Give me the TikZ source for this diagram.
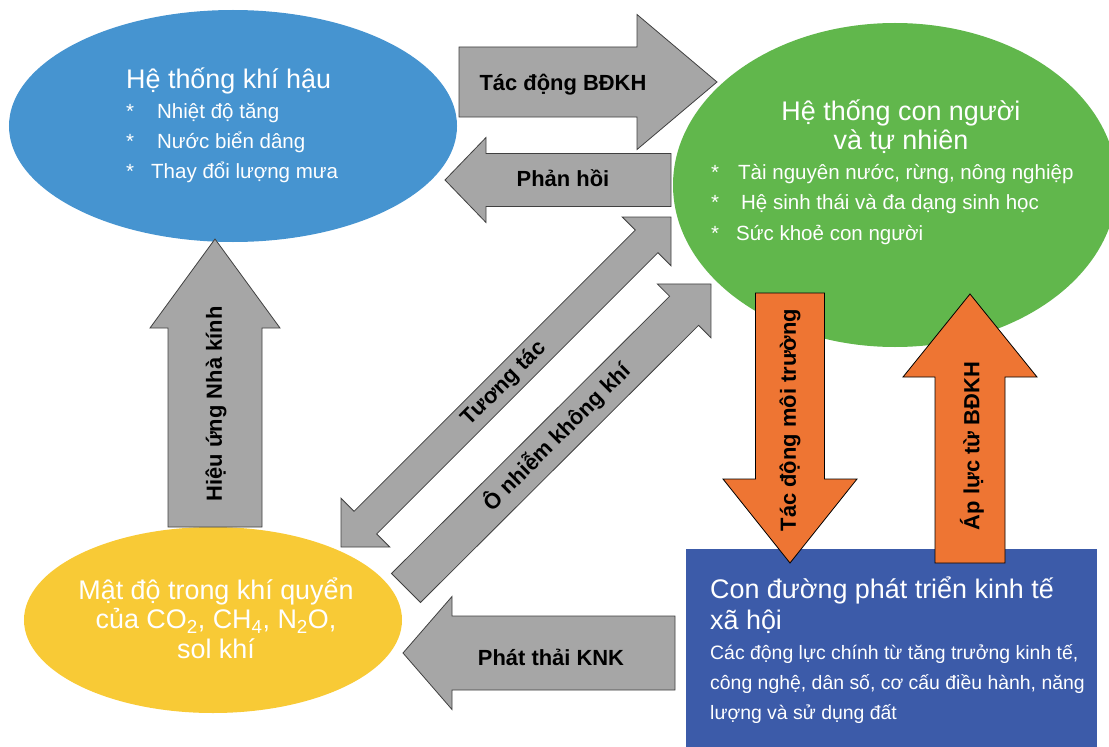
\documentclass[tikz,border=0pt]{standalone}
\usepackage{fontspec}
\setmainfont{Liberation Sans}
\usepackage{xcolor}
\usetikzlibrary{shapes.geometric,calc}
\definecolor{climateblue}{RGB}{70,148,208}
\definecolor{humangreen}{RGB}{97,183,76}
\definecolor{gasyellow}{RGB}{248,202,54}
\definecolor{pathblue}{RGB}{60,91,169}
\definecolor{impactorange}{RGB}{238,117,51}
\definecolor{arrowgray}{RGB}{166,166,166}

% block arrow: [style]{tail}{tip}{half shaft}{half head}{head length}
\newcommand{\blockarrow}[6][]{%
  \coordinate (hb) at ($(#3)!#6!(#2)$);
  \draw[#1] ($(#2)!#4!90:(#3)$) -- ($(hb)!#4!90:(#3)$) -- ($(hb)!#5!90:(#3)$) -- (#3)
    -- ($(hb)!#5!-90:(#3)$) -- ($(hb)!#4!-90:(#3)$) -- ($(#2)!#4!-90:(#3)$) -- cycle;
}
% same with a head at both ends
\newcommand{\twowayarrow}[6][]{%
  \coordinate (hb) at ($(#3)!#6!(#2)$);
  \coordinate (tb) at ($(#2)!#6!(#3)$);
  \draw[#1] ($(tb)!#4!90:(#3)$) -- ($(hb)!#4!90:(#3)$) -- ($(hb)!#5!90:(#3)$) -- (#3)
    -- ($(hb)!#5!-90:(#3)$) -- ($(hb)!#4!-90:(#3)$) -- ($(tb)!#4!-90:(#3)$)
    -- ($(tb)!#5!-90:(#3)$) -- (#2) -- ($(tb)!#5!90:(#3)$) -- cycle;
}

\begin{document}
\begin{tikzpicture}[x=1bp,y=-1bp]
    % Define styles
    \tikzstyle{bubble} = [ellipse, draw=none, inner sep=0pt, outer sep=0pt]
    \tikzstyle{heading} = [text=white, inner sep=0pt, font=\fontsize{27}{29}\selectfont]
    \tikzstyle{bullets} = [text=white, inner sep=0pt, align=left, anchor=base west, font=\fontsize{20.6}{30}\selectfont]
    \tikzstyle{grayarrow} = [fill=arrowgray, draw=black!75, line width=0.8bp]
    \tikzstyle{orangearrow} = [fill=impactorange, draw=black, line width=0.8bp]
    \tikzstyle{arrowtext} = [inner sep=0pt, font=\bfseries\fontsize{22}{25}\selectfont]

    \clip (0,0) rectangle (1109,747);

    % Systems
    \node (climate) [bubble, fill=climateblue, minimum width=448bp, minimum height=232bp] at (233,126) {};
    \node (human) [bubble, fill=humangreen, minimum width=444bp, minimum height=324bp] at (895,185) {};
    \node (gases) [bubble, fill=gasyellow, minimum width=378bp, minimum height=186bp] at (213,620) {};
    \node (pathway) [rectangle, fill=pathblue, inner sep=0pt, minimum width=411bp, minimum height=200bp] at (891.5,649) {};

    % Texts inside (base = last line)
    \node (climatetext) [bullets] at (126,178) {{\fontsize{27}{30}\selectfont Hệ thống khí hậu}\\
        *\hspace{23bp}Nhiệt độ tăng\\*\hspace{23bp}Nước biển dâng\\*\hspace{17bp}Thay đổi lượng mưa};
    \node (humantitle) [heading, align=center, anchor=base] at (901,149) {Hệ thống con người\\và tự nhiên};
    \node (humantext) [bullets, font=\fontsize{20.6}{30.5}\selectfont] at (711,240) {*\hspace{19bp}Tài nguyên nước, rừng, nông nghiệp\\
        *\hspace{22bp}Hệ sinh thái và đa dạng sinh học\\*\hspace{17bp}Sức khoẻ con người};
    \node (gasestext) [heading, align=center, anchor=base, font=\fontsize{27}{29.5}\selectfont] at (216,658)
        {Mật độ trong khí quyển\\của CO\textsubscript{2}, CH\textsubscript{4}, N\textsubscript{2}O,\\sol khí};
    \node (pathtitle) [heading, align=left, anchor=base west, font=\fontsize{27}{31}\selectfont] at (710,629)
        {Con đường phát triển kinh tế\\xã hội};
    \node (pathtext) [bullets, font=\fontsize{19.5}{30}\selectfont] at (710,719)
        {Các động lực chính từ tăng trưởng kinh tế,\\công nghệ, dân số, cơ cấu điều hành, năng\\lượng và sử dụng đất};

    % Arrow ends
    \coordinate (bdkhA) at (459,82);   \coordinate (bdkhB) at (717,82);
    \coordinate (phA) at (671,180);    \coordinate (phB) at (445,180);
    \coordinate (nkA) at (215,527);    \coordinate (nkB) at (215,239);
    \coordinate (knkA) at (675,653);   \coordinate (knkB) at (403,653);
    \coordinate (ttA) at (341,547);    \coordinate (ttB) at (671,217);
    \coordinate (onA) at (406,588);    \coordinate (onB) at (711,284);
    \coordinate (mtA) at (790,293);    \coordinate (mtB) at (790,563);
    \coordinate (alA) at (970,563);    \coordinate (alB) at (970,294);

    % Draw arrows
    \blockarrow[grayarrow]{bdkhA}{bdkhB}{35bp}{67.5bp}{80bp}
    \blockarrow[grayarrow]{phA}{phB}{26.5bp}{42.5bp}{41bp}
    \blockarrow[grayarrow]{nkA}{nkB}{47bp}{65bp}{89bp}
    \blockarrow[grayarrow]{knkA}{knkB}{37bp}{56.5bp}{49bp}
    \twowayarrow[grayarrow]{ttA}{ttB}{16bp}{34.5bp}{34.5bp}
    \blockarrow[grayarrow]{onA}{onB}{20.5bp}{38bp}{38bp}
    \blockarrow[orangearrow]{mtA}{mtB}{34.5bp}{67bp}{84bp}
    \blockarrow[orangearrow]{alA}{alB}{35bp}{67bp}{83bp}

    % Arrow labels
    \node (bdkh) [arrowtext, anchor=base] at (563,91) {Tác động BĐKH};
    \node (phanhoi) [arrowtext, anchor=base] at (563,186) {Phản hồi};
    \node (nhakinh) [arrowtext, rotate=90] at (216,404) {Hiệu ứng Nhà kính};
    \node (phatthai) [arrowtext, anchor=base] at (551,665) {Phát thải KNK};
    \node (tuongtac) [arrowtext, rotate=45] at (504,384) {Tương tác};
    \node (onhiem) [arrowtext, rotate=45] at (557,437) {Ô nhiễm không khí};
    \node (moitruong) [arrowtext, rotate=90] at (790,420) {Tác động môi trường};
    \node (apluc) [arrowtext, rotate=90] at (972,446) {Áp lực từ BĐKH};
\end{tikzpicture}
\end{document}
